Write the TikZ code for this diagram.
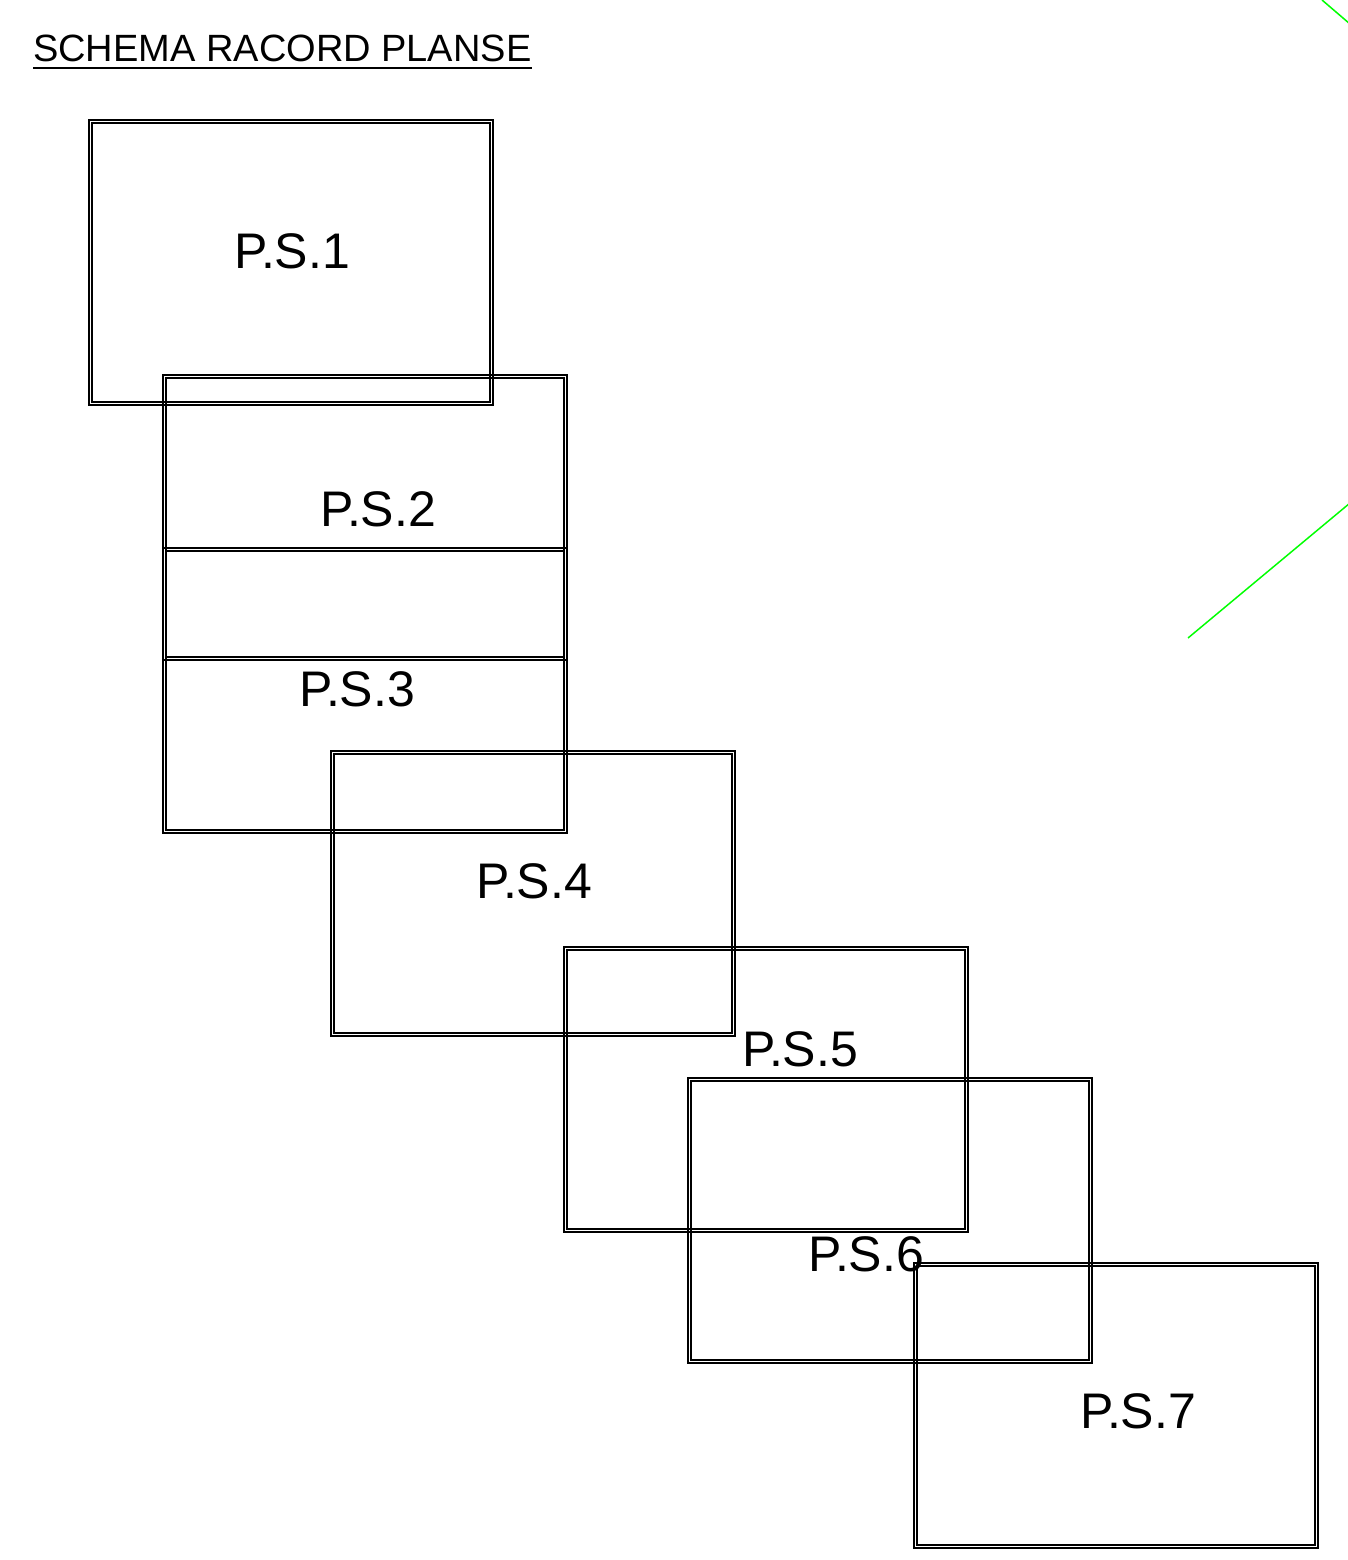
\documentclass[tikz,border=0pt]{standalone}
\usepackage{fontspec}
\setmainfont{Liberation Sans}
\begin{document}
\begin{tikzpicture}[x=1pt,y=-1pt,
  plate/.style={draw=black,line width=2.2pt,inner sep=0pt,minimum width=404pt,minimum height=285pt,anchor=north west},
  platein/.style={draw=black,line width=1.5pt},
  lbl/.style={font=\fontsize{50}{58}\selectfont,anchor=base,inner sep=0pt},
  guide/.style={draw={rgb,255:red,0;green,255;blue,0},line width=1.5pt}]
\useasboundingbox (0,0) rectangle (1348,1560);
\node[anchor=base west,inner sep=0pt,font=\fontsize{38}{44}\selectfont] (title) at (33,62) {SCHEMA RACORD PLANSE};
\draw[line width=2pt] ([yshift=-6pt]title.base west) -- ([yshift=-6pt]title.base east);
\foreach \n/\x/\y in {1/88/119,2/162/374,3/162/547,4/330/750,5/563/946,6/687/1077,7/913/1262}{
  \node[plate] (b\n) at (\x,\y) {};
  \draw[platein] ([shift={(4,4)}]b\n.north west) rectangle ([shift={(-4,-4)}]b\n.south east);
}
\node[lbl] (l1) at (292,268) {P.S.1};
\node[lbl] (l2) at (378,526) {P.S.2};
\node[lbl] (l3) at (357,706) {P.S.3};
\node[lbl] (l4) at (534,898) {P.S.4};
\node[lbl] (l5) at (800,1066) {P.S.5};
\node[lbl] (l6) at (866,1271) {P.S.6};
\node[lbl] (l7) at (1138,1428) {P.S.7};
\coordinate (g1a) at (1322,0);
\coordinate (g1b) at (1350,24);
\coordinate (g2a) at (1188,638);
\coordinate (g2b) at (1350,503);
\draw[guide] (g1a) -- (g1b);
\draw[guide] (g2a) -- (g2b);
\end{tikzpicture}
\end{document}
